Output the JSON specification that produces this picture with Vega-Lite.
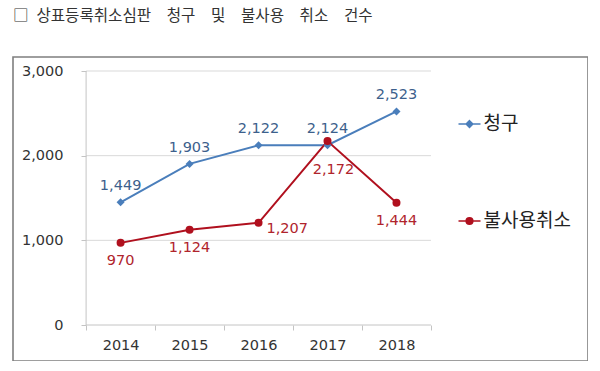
{
  "$schema": "https://vega.github.io/schema/vega-lite/v6.json",
  "autosize": {"type": "none"},
  "padding": {"left": 13, "top": 57, "right": 0, "bottom": 0},
  "width": 575,
  "height": 304,
  "background": "white",
  "config": {
    "view": {"stroke": "#7f7f7f", "strokeWidth": 1.6},
    "font": "DejaVu Sans"
  },
  "title": {
    "text": "□\u2002상표등록취소심판\u3000청구\u3000및\u3000불사용\u3000취소\u3000건수",
    "anchor": "start",
    "font": "Noto Sans CJK KR",
    "fontSize": 15.6,
    "fontWeight": "normal",
    "color": "#333333",
    "baseline": "bottom",
    "offset": 17
  },
  "data": {
    "values": [
      {"year": 2014, "series": "청구", "value": 1449},
      {"year": 2015, "series": "청구", "value": 1903},
      {"year": 2016, "series": "청구", "value": 2122},
      {"year": 2017, "series": "청구", "value": 2124},
      {"year": 2018, "series": "청구", "value": 2523},
      {"year": 2014, "series": "불사용취소", "value": 970},
      {"year": 2015, "series": "불사용취소", "value": 1124},
      {"year": 2016, "series": "불사용취소", "value": 1207},
      {"year": 2017, "series": "불사용취소", "value": 2172},
      {"year": 2018, "series": "불사용취소", "value": 1444}
    ]
  },
  "layer": [
    {
      "data": {"values": [{"v": 1000}, {"v": 2000}, {"v": 3000}]},
      "mark": {"type": "rule", "color": "#d9d9d9", "strokeWidth": 1},
      "encoding": {
        "y": {"field": "v", "type": "quantitative"},
        "x": {"datum": 2013.5, "type": "quantitative"},
        "x2": {"datum": 2018.5}
      }
    },
    {
      "data": {"values": [{}]},
      "mark": {"type": "rule", "color": "#c4c4c4", "strokeWidth": 1},
      "encoding": {
        "x": {"datum": 2013.5, "type": "quantitative"},
        "y": {"datum": 0, "type": "quantitative"},
        "y2": {"datum": 3000}
      }
    },
    {
      "data": {"values": [{}]},
      "mark": {"type": "rule", "color": "#c4c4c4", "strokeWidth": 1},
      "encoding": {
        "y": {"datum": 0, "type": "quantitative"},
        "x": {"datum": 2013.5, "type": "quantitative"},
        "x2": {"datum": 2018.5}
      }
    },
    {
      "mark": {"type": "line", "strokeWidth": 2},
      "encoding": {
        "x": {
          "field": "year",
          "type": "quantitative",
          "scale": {"domain": [2012.44, 2020.777], "nice": false, "zero": false},
          "axis": {
            "title": null,
            "values": [2013.5, 2014.5, 2015.5, 2016.5, 2017.5, 2018.5],
            "labelExpr": "datum.value < 2018 ? format(datum.value + 0.5, 'd') : ''",
            "labelOffset": 34.5,
            "labelOverlap": false,
            "labelFlush": false,
            "offset": -36,
            "domain": false,
            "grid": false,
            "ticks": true,
            "tickSize": 5,
            "tickColor": "#c4c4c4",
            "labelPadding": 8,
            "labelFontSize": 14.5,
            "labelColor": "#333333",
            "labelFont": "DejaVu Sans"
          }
        },
        "y": {
          "field": "value",
          "type": "quantitative",
          "scale": {"domain": [-425.2, 3165.4], "nice": false, "zero": false},
          "axis": {
            "title": null,
            "values": [0, 1000, 2000, 3000],
            "format": ",d",
            "offset": -73,
            "domain": false,
            "grid": false,
            "ticks": true,
            "tickSize": 5,
            "tickColor": "#c4c4c4",
            "labelPadding": 18,
            "labelFontSize": 14.5,
            "labelColor": "#333333",
            "labelFont": "DejaVu Sans"
          }
        },
        "color": {
          "field": "series",
          "type": "nominal",
          "scale": {"domain": ["청구", "불사용취소"], "range": ["#4a7ebb", "#b0101e"]},
          "legend": {
            "orient": "none",
            "legendX": 444.5,
            "legendY": 55,
            "title": null,
            "padding": 0,
            "rowPadding": 75,
            "labelOffset": 2,
            "labelFont": "Noto Sans CJK KR",
            "labelFontSize": 19,
            "labelColor": "#222222",
            "symbolSize": 484,
            "symbolStrokeWidth": 1.6,
            "encode": {
              "symbols": {
                "update": {
                  "shape": {"signal": "datum.value === '청구' ? 'M-1,0L1,0M0,-0.3L0.3,0L0,0.3L-0.3,0Z' : 'M-1,0L1,0M-0.3,0A0.3,0.3,0,1,0,0.3,0A0.3,0.3,0,1,0,-0.3,0Z'"},
                  "stroke": {"signal": "datum.value === '청구' ? '#4a7ebb' : '#b0101e'"},
                  "fill": {"signal": "datum.value === '청구' ? '#4a7ebb' : '#b0101e'"},
                  "strokeWidth": {"value": 1.6},
                  "opacity": {"value": 1}
                }
              }
            }
          }
        }
      }
    },
    {
      "transform": [{"filter": "datum.series === '청구'"}],
      "mark": {"type": "point", "filled": true, "size": 64, "opacity": 1, "shape": "diamond"},
      "encoding": {
        "x": {"field": "year", "type": "quantitative"},
        "y": {"field": "value", "type": "quantitative"},
        "color": {"field": "series", "type": "nominal"}
      }
    },
    {
      "transform": [{"filter": "datum.series === '불사용취소'"}],
      "mark": {"type": "point", "filled": true, "size": 64, "opacity": 1, "shape": "circle"},
      "encoding": {
        "x": {"field": "year", "type": "quantitative"},
        "y": {"field": "value", "type": "quantitative"},
        "color": {"field": "series", "type": "nominal"}
      }
    },
    {
      "transform": [{"filter": "datum.series === '청구'"}],
      "mark": {"type": "text", "dy": -16, "baseline": "middle", "align": "center", "fontSize": 14.5, "color": "#3d5f8c", "font": "DejaVu Sans"},
      "encoding": {
        "x": {"field": "year", "type": "quantitative"},
        "y": {"field": "value", "type": "quantitative"},
        "text": {"field": "value", "type": "quantitative", "format": ","}
      }
    },
    {
      "transform": [{"filter": "datum.series === '불사용취소' && datum.year !== 2016 && datum.year !== 2017"}],
      "mark": {"type": "text", "dy": 18, "baseline": "middle", "align": "center", "fontSize": 14.5, "color": "#b0242c", "font": "DejaVu Sans"},
      "encoding": {
        "x": {"field": "year", "type": "quantitative"},
        "y": {"field": "value", "type": "quantitative"},
        "text": {"field": "value", "type": "quantitative", "format": ","}
      }
    },
    {
      "transform": [{"filter": "datum.series === '불사용취소' && datum.year === 2016"}],
      "mark": {"type": "text", "dx": 8, "dy": 6, "baseline": "middle", "align": "left", "fontSize": 14.5, "color": "#b0242c", "font": "DejaVu Sans"},
      "encoding": {
        "x": {"field": "year", "type": "quantitative"},
        "y": {"field": "value", "type": "quantitative"},
        "text": {"field": "value", "type": "quantitative", "format": ","}
      }
    },
    {
      "transform": [{"filter": "datum.series === '불사용취소' && datum.year === 2017"}],
      "mark": {"type": "text", "dx": 6, "dy": 29, "baseline": "middle", "align": "center", "fontSize": 14.5, "color": "#b0242c", "font": "DejaVu Sans"},
      "encoding": {
        "x": {"field": "year", "type": "quantitative"},
        "y": {"field": "value", "type": "quantitative"},
        "text": {"field": "value", "type": "quantitative", "format": ","}
      }
    }
  ]
}
